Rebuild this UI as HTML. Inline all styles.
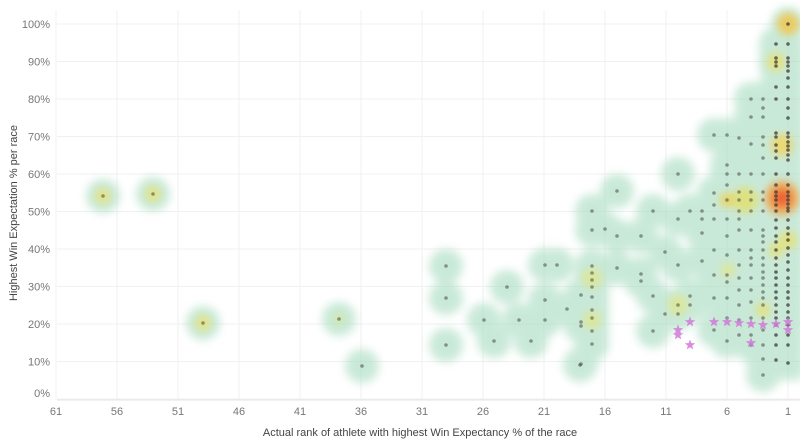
<!DOCTYPE html><html><head><meta charset="utf-8"><style>
body{margin:0;background:#fff;width:800px;height:443px;overflow:hidden;font-family:"Liberation Sans",sans-serif}
</style></head><body>
<svg id="s" width="800" height="443" xmlns="http://www.w3.org/2000/svg">
<defs>
<filter id="b" x="-50%" y="-50%" width="200%" height="200%"><feGaussianBlur stdDeviation="4.5"/></filter>
<filter id="b2" x="-50%" y="-50%" width="200%" height="200%"><feGaussianBlur stdDeviation="4"/></filter>
</defs>
<g id="grid" stroke="#f0f0f0" stroke-width="1"></g>
<g id="blobs" filter="url(#b)" opacity="0.6" fill="#a6dbbf"></g>
<g id="hot" filter="url(#b2)"></g>
<g id="dots" fill="#3a3a3a"></g>
<g id="stars" fill="#d07ad8" opacity="0.85"></g>
<g id="labels" font-size="11" fill="#777"></g>
<text x="420" y="436" font-size="11" fill="#444" text-anchor="middle">Actual rank of athlete with highest Win Expectancy % of the race</text>
<text transform="translate(17,213) rotate(-90)" font-size="11" fill="#444" text-anchor="middle">Highest Win Expectation % per race</text>
</svg>
<script>
const N="http://www.w3.org/2000/svg";
function el(p,t,a){const e=document.createElementNS(N,t);for(const k in a)e.setAttribute(k,a[k]);document.getElementById(p).appendChild(e);return e;}
const X=r=>788-(r-1)*12.2, Y=p=>399-p*3.75;
for(let i=0;i<=10;i++){el('grid','line',{x1:57,x2:800,y1:Y(i*10),y2:Y(i*10)});const t=el('labels','text',{x:50,y:Y(i*10)+4-(i==0?6:0),'text-anchor':'end'});t.textContent=(i*10)+'%';}
for(let r=61;r>=1;r-=5){el('grid','line',{x1:X(r),x2:X(r),y1:10,y2:400});const t=el('labels','text',{x:X(r),y:415,'text-anchor':'middle'});t.textContent=r;}
el('grid','line',{x1:57,x2:800,y1:400,y2:400,stroke:'#e4e4e4'});
let pts=[[103,196],[153,194],[203,323],[339,319],[362,366],[446,266],[446,298],[446,345],[484,320],[494,341],[507,287],[519,320],[531,341],[545,265],[557,265],[545,300],[545,320],[580,365]];
const cols={567:[309],581:[295,322,326,364],592:[211,230,266,273,280,287,297,310,318,331,344],605:[229],617:[191,236,268],641:[236,274,281],653:[211,296,331],665:[252,314],678:[174,219,265,305,314],690:[211,296,305],702:[211,219,233,261],714:[135,193,205,219,250,275,298,330],727:[135,165,174,185,200,219,236,255,275,282,298,318,341],739:[138,174,192,200,211,219,230,250,265,278,290,305,320,335],751:[99,117,144,174,192,200,211,230,250,258,265,278,290,302,318,335,345],763:[99,108,117,137,145,158,174,192,200,211,230,236,242,250,258,265,272,278,285,292,298,305,318,330,345,359,375],776:[44,58,62,66,87,99,133,137,145,151,158,174,185,192,196,200,205,211,220,228,236,242,250,258,265,272,278,285,292,298,305,312,318,325,335,345,360],788:[24,44,58,62,66,71,78,87,99,108,118,133,137,142,146,150,155,160,174,185,192,196,200,204,208,211,220,228,234,240,248,255,262,270,278,285,292,298,305,312,318,325,335,345,363]};
for(const x in cols)for(const y of cols[x])pts.push([+x,y]);
for(const p of pts){el('blobs','circle',{cx:p[0],cy:p[1],r:17});}
el('blobs','rect',{x:772,y:40,width:30,height:340});
const hot=[[788,24,11,'#f2c54a'],[776,62,9,'#e8e070'],[782,145,11,'#f0d560'],[782,198,17,'#f5a040'],[782,198,9,'#ee5530'],[745,200,13,'#e0e070'],[727,200,7,'#f0d050'],[592,278,10,'#dde890'],[678,305,10,'#dde890'],[592,320,9,'#dde890'],[103,196,8,'#e6e37a'],[153,194,8,'#e6e37a'],[203,323,8,'#e6e37a'],[339,319,5,'#d8e690'],[788,240,9,'#e6e070'],[776,250,7,'#e6e070'],[763,310,7,'#e6e070'],[728,270,7,'#dde890']];
for(const h of hot)el('hot','circle',{cx:h[0],cy:h[1],r:h[2],fill:h[3],opacity:0.85});
for(const p of pts)el('dots','circle',{cx:p[0],cy:p[1],r:1.8,opacity:p[0]>770?0.75:0.5});
const st=[[690,322],[678,330],[678,335],[690,345],[714,322],[727,322],[739,323],[751,324],[763,325],[776,324],[788,322],[788,330],[751,343]];
for(const s of st){let d='';for(let i=0;i<10;i++){const r=i%2?2.3:5.5,a=-Math.PI/2+i*Math.PI/5;d+=(i?'L':'M')+(s[0]+r*Math.cos(a)).toFixed(1)+','+(s[1]+r*Math.sin(a)).toFixed(1);}el('stars','path',{d:d+'Z'});}
</script>
</body></html>
